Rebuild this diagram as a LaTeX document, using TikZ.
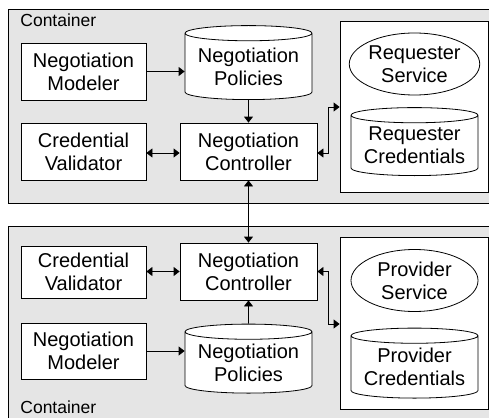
\documentclass[tikz,border=0pt]{standalone}
\usepackage{fontspec}
\setmainfont{Liberation Sans}
\usetikzlibrary{shapes.geometric, arrows.meta, positioning}

\begin{document}
\begin{tikzpicture}[x=1pt, y=-1pt, line width=0.8pt, >={Triangle[length=6pt, width=9pt]},
    comp/.style={draw, fill=white, align=center, inner sep=0pt,
      minimum width=125pt, font=\fontsize{20}{23}\selectfont},
    store/.style={cylinder, shape border rotate=90, aspect=0.15, draw, fill=white,
      align=center, inner sep=0pt, minimum width=127pt, font=\fontsize{20}{23}\selectfont},
    svc/.style={ellipse, draw, fill=white, align=center, inner sep=0pt,
      minimum width=127pt, minimum height=62pt, font=\fontsize{20}{23}\selectfont},
    side/.style={draw, fill=white, minimum width=148pt, inner sep=0pt}]
  \useasboundingbox (0,0) rectangle (489,417);
  % the two containers
  \draw[fill=gray!20] (8,9) rectangle (491,203);
  \draw[fill=gray!20] (8,226) rectangle (491,420);
  \node[anchor=base west, inner sep=0pt, font=\fontsize{17.5}{20}\selectfont] (toplbl) at (20,26.5) {Container};
  \node[anchor=base west, inner sep=0pt, font=\fontsize{17.5}{20}\selectfont] (botlbl) at (20,413) {Container};

  % requester side
  \node[comp, minimum height=57pt] (rmodel) at (83.5,71.5) {Negotiation\\Modeler};
  \node[store, minimum height=74pt, anchor=south] (rpol) at (248.5,100) {Negotiation\\Policies};
  \node[comp, minimum height=57pt] (rvalid) at (83.5,151.5) {Credential\\Validator};
  \node[comp, minimum width=137pt, minimum height=57pt] (rctrl) at (248.5,151.5) {Negotiation\\Controller};
  \node[side, minimum height=171pt] (rbox) at (414,106.5) {};
  \node[svc] (rsvc) at (414.5,64) {Requester\\Service};
  \node[store, minimum height=68pt, anchor=south] (rcred) at (414.5,176) {Requester\\Credentials};

  % provider side
  \node[comp, minimum height=52pt] (pvalid) at (83.5,272) {Credential\\Validator};
  \node[comp, minimum width=137pt, minimum height=57pt] (pctrl) at (248.5,271.5) {Negotiation\\Controller};
  \node[comp, minimum height=56pt] (pmodel) at (83.5,351) {Negotiation\\Modeler};
  \node[store, minimum height=69pt, anchor=south] (ppol) at (248.5,393.5) {Negotiation\\Policies};
  \node[side, minimum height=172pt] (pbox) at (414,323) {};
  \node[svc] (psvc) at (414.5,280.5) {Provider\\Service};
  \node[store, minimum height=70pt, anchor=south] (pcred) at (414.5,398.5) {Provider\\Credentials};

  % connectors
  \draw[->] (rmodel) -- (rpol.west |- rmodel);
  \draw[->] (rpol) -- (rctrl);
  \draw[<->] (rvalid.east |- 0,153) -- (rctrl.west |- 0,153);
  \draw[<->] (rctrl.east |- 0,153) -| (328.5,107) -- (rbox.west |- 0,107);
  \draw[<->] (rctrl) -- (pctrl);
  \draw[<->] (pvalid.east |- 0,271.5) -- (pctrl.west |- 0,271.5);
  \draw[->] (pmodel) -- (ppol.west |- pmodel);
  \draw[->] (ppol) -- (pctrl);
  \draw[<->] (pctrl.east |- 0,271.5) -| (328.5,324) -- (pbox.west |- 0,324);
\end{tikzpicture}
\end{document}
